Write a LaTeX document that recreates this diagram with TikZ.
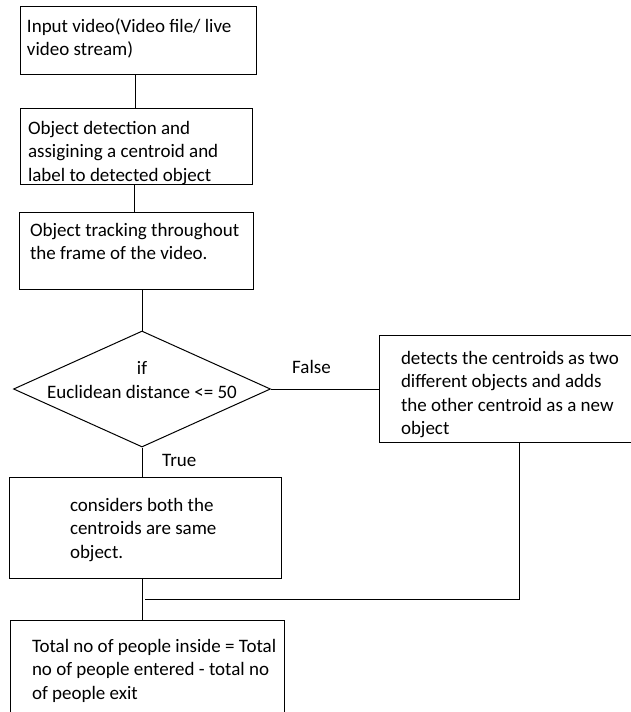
\documentclass[tikz,border=0pt]{standalone}
\usepackage{fontspec}
\setmainfont{Carlito}
\usetikzlibrary{shapes.geometric}
\begin{document}
\begin{tikzpicture}[x=1pt,y=-1pt,
  box/.style={draw, line width=1pt, rectangle, anchor=north west, inner sep=0pt},
  txt/.style={anchor=text, inner sep=0pt, align=left, font=\fontsize{19}{23.5}\selectfont},
  lbl/.style={anchor=base west, inner sep=0pt, font=\fontsize{19}{23.5}\selectfont},
  conn/.style={line width=1pt}]
\useasboundingbox (0,0) rectangle (631,712);
% boxes
\node[box, minimum width=236pt, minimum height=68pt] (b1) at (20,6) {};
\node[box, minimum width=232pt, minimum height=76pt] (b2) at (20,108) {};
\node[box, minimum width=234pt, minimum height=77pt] (b3) at (19,212) {};
\node[draw, line width=1pt, diamond, inner sep=0pt, minimum width=257pt, minimum height=116pt, shape aspect=2.2155] (d) at (142,389) {};
\node[box, minimum width=260pt, minimum height=107pt] (bf) at (379,335) {};
\node[box, minimum width=272pt, minimum height=101pt] (bt) at (9,477) {};
\node[box, minimum width=274pt, minimum height=100pt] (be) at (10,620) {};
% texts (anchored at the baseline of the last line)
\node[txt] (t1) at (27,55.5) {Input video(Video file/ live\\video stream)};
\node[txt] (t2) at (28,181) {Object detection and\\assigining a centroid and\\label to detected object};
\node[txt] (t3) at (30,259.5) {Object tracking throughout\\the frame of the video.};
\node[txt, align=center, anchor=center] (td) at (142,380) {if\\Euclidean distance <= 50};
\node[txt] (tf) at (401,434.5) {detects the centroids as two\\different objects and adds\\the other centroid as a new\\object};
\node[txt] (tt) at (70,558) {considers both the\\centroids are same\\object.};
\node[txt] (te) at (32,699) {Total no of people inside = Total\\no of people entered - total no\\of people exit};
\node[lbl] (lfalse) at (292,373) {False};
\node[lbl] (ltrue) at (162,466) {True};
% connectors
\coordinate (m) at (145,599);
\draw[conn] ([xshift=115pt]b1.south west) -- ([xshift=115pt]b2.north west);
\draw[conn] ([xshift=114pt]b2.south west) -- ([xshift=115pt]b3.north west);
\draw[conn] (d.north |- b3.south) -- (d.north);
\draw[conn] (d.east) -- (d.east -| bf.west);
\draw[conn] (d.south) -- (d.south |- bt.north);
\draw[conn] (d.south |- bt.south) -- (d.south |- be.north);
\draw[conn] ([xshift=140pt]bf.south west) |- (m);
\end{tikzpicture}
\end{document}
